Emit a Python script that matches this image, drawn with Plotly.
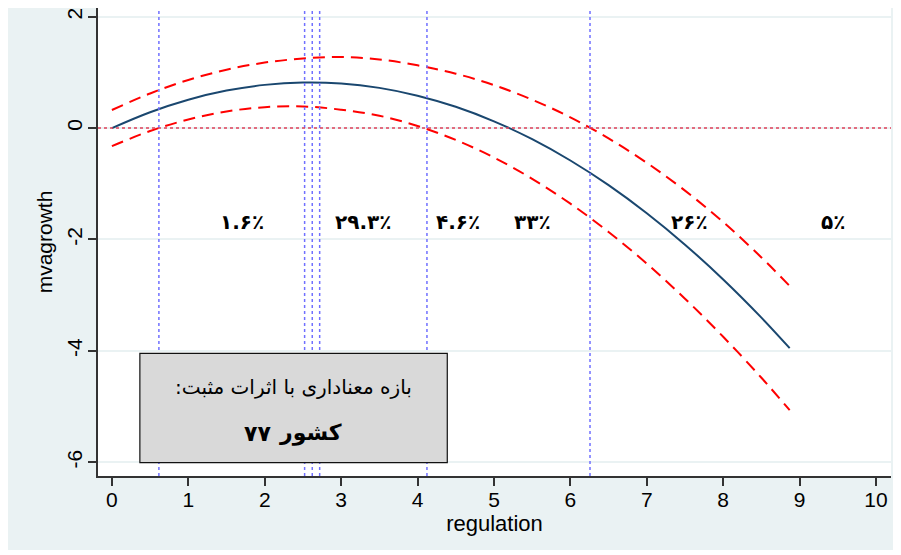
import plotly.graph_objects as go

# ---- data ----
reg_x = [0, 0.5, 1, 1.5, 2, 2.5, 3, 3.5, 4, 4.5, 5, 5.5, 6, 6.5, 7, 7.5, 8, 8.5, 8.87]
fit_y = [0, 0.285, 0.509, 0.673, 0.776, 0.819, 0.801, 0.722, 0.582, 0.382, 0.121,
         -0.20, -0.582, -1.025, -1.529, -2.093, -2.717, -3.402, -3.95]
upper_y = [0.325, 0.622, 0.864, 1.048, 1.176, 1.249, 1.275, 1.232, 1.127, 0.977, 0.771,
           0.51, 0.193, -0.185, -0.624, -1.123, -1.687, -2.322, -2.835]
lower_y = [-0.325, -0.052, 0.154, 0.298, 0.376, 0.389, 0.330, 0.222, 0.037, -0.213, -0.529,
           -0.91, -1.357, -1.865, -2.434, -3.063, -3.747, -4.482, -5.065]

vlines_x = [0.615, 2.522, 2.622, 2.719, 4.123, 6.257]

pct_labels = ["۱.۶٪", "۲۹.۳٪", "۴.۶٪", "۳۳٪", "۲۶٪", "۵٪"]
pct_x = [1.70, 3.28, 4.53, 5.50, 7.56, 9.44]
pct_y = -1.685

box_line1 = "بازه معناداری با اثرات مثبت:\u200f"
box_count = "۷۷"
box_word = "کشور"

x_ticks = list(range(0, 11))
y_ticks = [2, 0, -2, -4, -6]
y_ticktext = ["2", "0", "-2", "-4", "-6"]

BG = "#EAF2F3"
AX = "#333333"
TICKFONT = "Liberation Sans, Arial, sans-serif"
FAFONT = "DejaVu Sans, Noto Sans, sans-serif"

fig = go.Figure()
fig.add_trace(go.Scatter(x=reg_x, y=upper_y, mode="lines", line_shape="spline",
                         line=dict(color="#ff0000", width=2, dash="12px,7px"),
                         showlegend=False, hoverinfo="skip"))
fig.add_trace(go.Scatter(x=reg_x, y=lower_y, mode="lines", line_shape="spline",
                         line=dict(color="#ff0000", width=2, dash="12px,7px"),
                         showlegend=False, hoverinfo="skip"))
fig.add_trace(go.Scatter(x=reg_x, y=fit_y, mode="lines", line_shape="spline",
                         line=dict(color="#1a476f", width=2),
                         showlegend=False, hoverinfo="skip"))

shapes = []
for vx in vlines_x:
    shapes.append(dict(type="line", xref="x", yref="paper", x0=vx, x1=vx, y0=0, y1=1,
                       line=dict(color="#7070ff", width=1.5, dash="dot"), layer="above"))
shapes.append(dict(type="line", xref="paper", yref="y", x0=0, x1=1, y0=0, y1=0,
                   line=dict(color="#e0405a", width=1.5, dash="dot"), layer="above"))
# box
shapes.append(dict(type="rect", xref="x", yref="y", x0=0.366, x1=4.389, y0=-6.007, y1=-4.043,
                   fillcolor="#d9d9d9", line=dict(color="#111111", width=1.2), layer="above"))

annotations = []
for t, px in zip(pct_labels, pct_x):
    annotations.append(dict(x=px, y=pct_y, xref="x", yref="y", text="<b>" + t + "</b>",
                            showarrow=False, font=dict(family=FAFONT, size=20, color="black")))
annotations.append(dict(x=2.377, y=-4.643, xref="x", yref="y", text=box_line1, showarrow=False,
                        font=dict(family=FAFONT, size=20, color="black")))
annotations.append(dict(x=2.107, y=-5.474, xref="x", yref="y", xanchor="right",
                        text="<b>" + box_count + "</b>", showarrow=False,
                        font=dict(family=FAFONT, size=22, color="black")))
annotations.append(dict(x=2.160, y=-5.474, xref="x", yref="y", xanchor="left",
                        text="<b>" + box_word + "</b>", showarrow=False,
                        font=dict(family=FAFONT, size=22, color="black")))

fig.update_layout(
    width=893, height=542,
    margin=dict(l=90, r=10, t=0, b=74, autoexpand=False),
    paper_bgcolor=BG, plot_bgcolor="white",
    shapes=shapes, annotations=annotations,
    xaxis=dict(range=[-0.182, 10.196], tickvals=x_ticks, showgrid=False, zeroline=False,
               automargin=False, ticklabeloverflow="allow",
               showline=True, linecolor=AX, linewidth=1.5, ticks="outside", ticklen=8,
               tickwidth=1.5, tickcolor=AX, ticklabelstandoff=-4,
               tickfont=dict(family=TICKFONT, size=21, color="black"),
               title=dict(text="regulation", font=dict(family=TICKFONT, size=22, color="black"),
                          standoff=4)),
    yaxis=dict(range=[-6.246, 2.156], tickvals=y_ticks, ticktext=y_ticktext,
               showgrid=True, gridcolor=BG, gridwidth=2,
               automargin=False, ticklabeloverflow="allow",
               zeroline=False, showline=True, linecolor=AX, linewidth=1.5, ticks="outside",
               ticklen=8, tickwidth=1.5, tickcolor=AX, tickangle=-90, ticklabelstandoff=-2,
               tickfont=dict(family=TICKFONT, size=21, color="black"),
               title=dict(text="mvagrowth", font=dict(family=TICKFONT, size=21, color="black"),
                          standoff=4)),
)

fig.write_html("out.html")
